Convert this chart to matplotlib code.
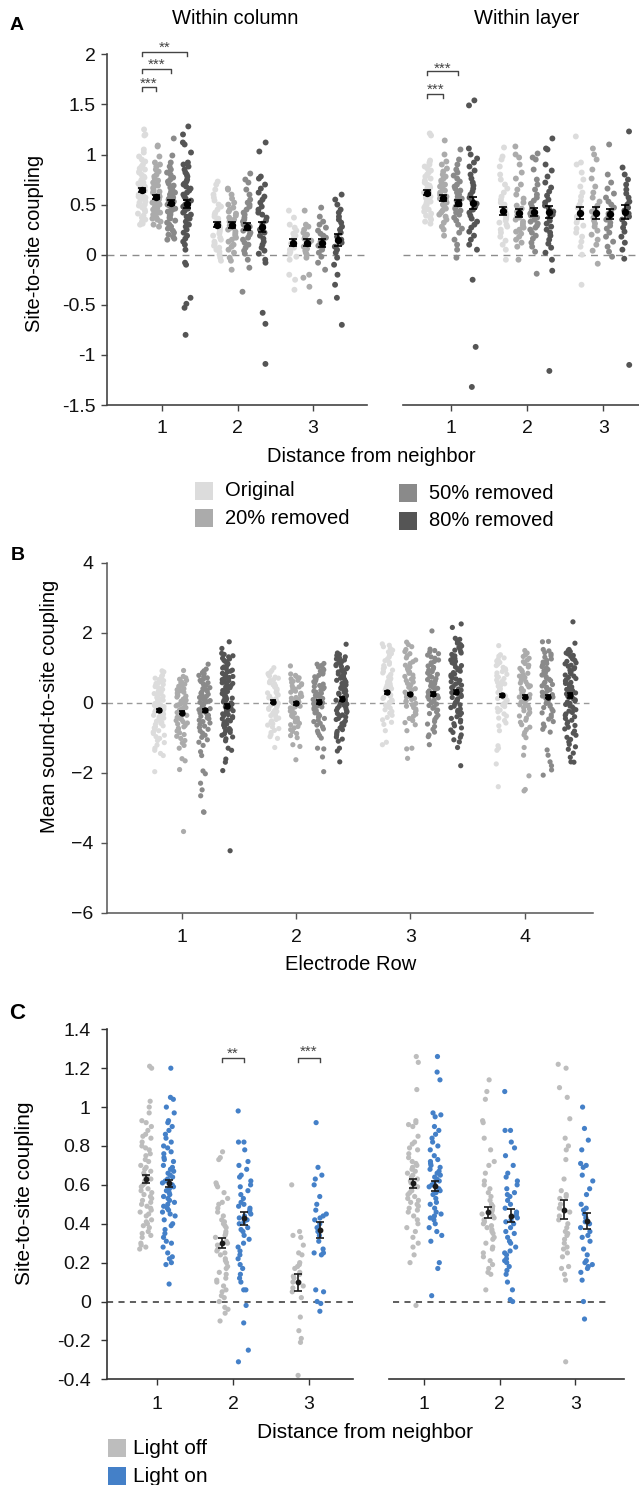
import numpy as np
import matplotlib
matplotlib.use('Agg')
import matplotlib.pyplot as plt
from matplotlib.patches import Rectangle

plt.rcParams['font.family'] = ['Liberation Sans', 'DejaVu Sans']

W, H = 639, 1485

# ---------------- Panel A: site-to-site coupling after removal ----------------
removal_labels = ['Original', '20% removed', '50% removed', '80% removed']
removal_colors = ['#dcdcdc', '#ababab', '#8a8a8a', '#555555']
distance_ticks = [1, 2, 3]

# within column, one list per removal level
col_d1 = [
    [1.25, 1.2, 1.19, 1.05, 1.02, 0.98, 0.95, 0.93, 0.9, 0.88, 0.86, 0.85, 0.83, 0.82, 0.8, 0.78, 0.77, 0.75, 0.74, 0.72,
     0.71, 0.7, 0.69, 0.68, 0.67, 0.66, 0.65, 0.64, 0.63, 0.62, 0.61, 0.6, 0.59, 0.58, 0.57, 0.56, 0.55, 0.53, 0.52, 0.5,
     0.49, 0.47, 0.45, 0.43, 0.41, 0.39, 0.37, 0.35, 0.33, 0.31, 0.3],
    [1.09, 1.08, 0.98, 0.92, 0.9, 0.88, 0.85, 0.83, 0.8, 0.78, 0.76, 0.74, 0.72, 0.7, 0.69, 0.67, 0.66, 0.64, 0.63, 0.62,
     0.6, 0.59, 0.58, 0.57, 0.56, 0.55, 0.54, 0.53, 0.52, 0.51, 0.5, 0.49, 0.48, 0.47, 0.46, 0.45, 0.44, 0.43, 0.42, 0.41,
     0.4, 0.39, 0.37, 0.36, 0.35, 0.33, 0.3, 0.28],
    [1.16, 0.99, 0.92, 0.88, 0.85, 0.82, 0.8, 0.77, 0.75, 0.73, 0.71, 0.69, 0.67, 0.65, 0.63, 0.62, 0.6, 0.58, 0.57, 0.56,
     0.55, 0.53, 0.52, 0.51, 0.5, 0.49, 0.47, 0.46, 0.45, 0.43, 0.42, 0.4, 0.39, 0.37, 0.36, 0.34, 0.32, 0.3, 0.28, 0.26,
     0.24, 0.22, 0.2, 0.18, 0.16, 0.15],
    [1.28, 1.2, 1.12, 1.1, 1.02, 0.92, 0.9, 0.88, 0.85, 0.82, 0.8, 0.78, 0.75, 0.73, 0.71, 0.7, 0.68, 0.66, 0.64, 0.62,
     0.6, 0.58, 0.56, 0.54, 0.52, 0.5, 0.48, 0.46, 0.44, 0.42, 0.4, 0.38, 0.36, 0.33, 0.3, 0.28, 0.25, 0.22, 0.19, 0.16,
     0.13, 0.1, 0.05, -0.08, -0.1, -0.43, -0.49, -0.53, -0.8],
]
col_d2 = [
    [0.73, 0.7, 0.65, 0.6, 0.57, 0.54, 0.5, 0.48, 0.45, 0.42, 0.4, 0.38, 0.36, 0.34, 0.32, 0.3, 0.29, 0.27, 0.25, 0.23,
     0.21, 0.19, 0.17, 0.15, 0.13, 0.11, 0.09, 0.07, 0.05, 0.03, 0.0, -0.03, -0.06],
    [0.66, 0.65, 0.6, 0.56, 0.52, 0.5, 0.47, 0.45, 0.43, 0.41, 0.39, 0.37, 0.35, 0.33, 0.31, 0.29, 0.27, 0.25, 0.23, 0.21,
     0.19, 0.17, 0.15, 0.13, 0.1, 0.08, 0.05, 0.02, -0.03, -0.06, -0.15],
    [0.81, 0.75, 0.72, 0.65, 0.6, 0.55, 0.52, 0.5, 0.48, 0.45, 0.42, 0.4, 0.37, 0.35, 0.33, 0.3, 0.28, 0.26, 0.24, 0.22,
     0.2, 0.17, 0.15, 0.12, 0.1, 0.07, 0.04, 0.01, -0.05, -0.13, -0.37],
    [1.12, 1.03, 0.78, 0.76, 0.7, 0.66, 0.62, 0.58, 0.55, 0.52, 0.48, 0.45, 0.42, 0.4, 0.37, 0.34, 0.31, 0.28, 0.25, 0.22,
     0.19, 0.16, 0.13, 0.1, 0.07, 0.04, 0.01, -0.05, -0.08, -0.58, -0.69, -1.09],
]
col_d3 = [
    [0.44, 0.37, 0.3, 0.27, 0.24, 0.21, 0.19, 0.17, 0.15, 0.13, 0.11, 0.09, 0.07, 0.05, 0.03, 0.01, -0.02, -0.05, -0.2,
     -0.25, -0.35],
    [0.44, 0.3, 0.28, 0.25, 0.22, 0.2, 0.18, 0.16, 0.14, 0.12, 0.1, 0.08, 0.06, 0.04, 0.02, 0.0, -0.03, -0.2, -0.23, -0.32],
    [0.47, 0.38, 0.33, 0.3, 0.27, 0.24, 0.21, 0.19, 0.17, 0.15, 0.13, 0.11, 0.09, 0.07, 0.05, 0.02, -0.02, -0.08, -0.15,
     -0.47],
    [0.6, 0.55, 0.5, 0.45, 0.42, 0.38, 0.35, 0.32, 0.28, 0.25, 0.22, 0.18, 0.15, 0.12, 0.08, 0.05, 0.02, -0.03, -0.1, -0.2,
     -0.3, -0.43, -0.7],
]
col_means = [[0.65, 0.58, 0.52, 0.51], [0.30, 0.30, 0.28, 0.28], [0.12, 0.12, 0.12, 0.15]]
col_sem = [[0.02, 0.02, 0.025, 0.04], [0.025, 0.03, 0.035, 0.05], [0.035, 0.035, 0.04, 0.06]]

# within layer
lay_d1 = [
    [1.21, 1.19, 0.94, 0.92, 0.9, 0.88, 0.86, 0.84, 0.82, 0.8, 0.78, 0.76, 0.74, 0.72, 0.7, 0.69, 0.67, 0.66, 0.64, 0.63,
     0.62, 0.61, 0.6, 0.58, 0.57, 0.56, 0.55, 0.53, 0.52, 0.5, 0.49, 0.47, 0.45, 0.43, 0.41, 0.39, 0.37, 0.35, 0.33, 0.31],
    [1.14, 1.0, 0.93, 0.9, 0.86, 0.83, 0.8, 0.78, 0.76, 0.74, 0.72, 0.7, 0.68, 0.66, 0.64, 0.62, 0.6, 0.59, 0.58, 0.56,
     0.55, 0.54, 0.52, 0.5, 0.48, 0.46, 0.44, 0.42, 0.4, 0.38, 0.35, 0.32, 0.28, 0.25, 0.19],
    [1.05, 0.95, 0.9, 0.85, 0.82, 0.79, 0.76, 0.73, 0.7, 0.68, 0.66, 0.64, 0.62, 0.6, 0.58, 0.56, 0.54, 0.52, 0.5, 0.48,
     0.46, 0.44, 0.42, 0.4, 0.37, 0.34, 0.3, 0.26, 0.22, 0.15, 0.1, 0.05, -0.03],
    [1.54, 1.49, 1.06, 1.0, 0.96, 0.92, 0.88, 0.84, 0.8, 0.76, 0.72, 0.69, 0.66, 0.63, 0.6, 0.57, 0.54, 0.51, 0.48, 0.45,
     0.42, 0.39, 0.36, 0.33, 0.3, 0.27, 0.23, 0.19, 0.15, 0.1, 0.05, -0.25, -0.92, -1.32],
]
lay_d2 = [
    [1.07, 0.98, 0.95, 0.88, 0.8, 0.75, 0.7, 0.66, 0.62, 0.58, 0.55, 0.52, 0.5, 0.48, 0.46, 0.44, 0.42, 0.4, 0.38, 0.36,
     0.34, 0.32, 0.3, 0.28, 0.25, 0.22, 0.18, 0.14, 0.1, 0.05, -0.05],
    [1.08, 1.0, 0.97, 0.9, 0.82, 0.76, 0.7, 0.65, 0.6, 0.56, 0.52, 0.49, 0.46, 0.43, 0.41, 0.39, 0.37, 0.35, 0.33, 0.31,
     0.29, 0.27, 0.25, 0.23, 0.21, 0.18, 0.15, 0.12, 0.08, -0.05],
    [1.01, 0.97, 0.95, 0.85, 0.75, 0.7, 0.65, 0.6, 0.57, 0.54, 0.51, 0.48, 0.45, 0.43, 0.41, 0.39, 0.37, 0.35, 0.33, 0.31,
     0.29, 0.27, 0.25, 0.22, 0.19, 0.16, 0.12, 0.08, 0.03, -0.19],
    [1.16, 1.06, 1.05, 0.9, 0.84, 0.78, 0.72, 0.67, 0.63, 0.59, 0.55, 0.52, 0.49, 0.46, 0.43, 0.4, 0.37, 0.34, 0.31, 0.28,
     0.25, 0.22, 0.19, 0.15, 0.11, 0.07, 0.02, -0.05, -0.16, -1.16],
]
lay_d3 = [
    [1.18, 0.92, 0.9, 0.82, 0.75, 0.68, 0.62, 0.58, 0.54, 0.5, 0.47, 0.44, 0.41, 0.38, 0.35, 0.32, 0.29, 0.26, 0.22, 0.18,
     0.13, 0.08, 0.0, -0.3],
    [1.06, 1.0, 0.95, 0.85, 0.76, 0.68, 0.62, 0.57, 0.53, 0.49, 0.46, 0.43, 0.4, 0.37, 0.34, 0.31, 0.28, 0.24, 0.2, 0.15,
     0.1, 0.04, -0.09],
    [1.1, 0.8, 0.72, 0.66, 0.61, 0.57, 0.53, 0.5, 0.47, 0.44, 0.41, 0.38, 0.35, 0.32, 0.29, 0.26, 0.22, 0.18, 0.13, 0.08,
     0.03, -0.02],
    [1.23, 0.87, 0.8, 0.75, 0.7, 0.65, 0.61, 0.57, 0.53, 0.5, 0.47, 0.44, 0.41, 0.38, 0.35, 0.31, 0.27, 0.23, 0.18, 0.12,
     0.05, -0.04, -1.1],
]
lay_means = [[0.62, 0.57, 0.52, 0.52], [0.44, 0.42, 0.43, 0.43], [0.42, 0.42, 0.41, 0.43]]
lay_sem = [[0.025, 0.03, 0.03, 0.06], [0.04, 0.04, 0.04, 0.06], [0.06, 0.06, 0.05, 0.07]]

# ---------------- Panel B: mean sound-to-site coupling per electrode row ----------------
row_ticks = [1, 2, 3, 4]
row1 = [
    [0.91, 0.88, 0.79, 0.76, 0.72, 0.7, 0.66, 0.63, 0.61, 0.57, 0.55, 0.52, 0.48, 0.46, 0.43, 0.4, 0.38, 0.34, 0.32,
     0.29, 0.26, 0.24, 0.2, 0.18, 0.15, 0.12, 0.1, 0.07, 0.04, 0.02, -0.01, -0.03, -0.06, -0.08, -0.11, -0.13, -0.16,
     -0.18, -0.21, -0.23, -0.26, -0.28, -0.31, -0.33, -0.36, -0.39, -0.41, -0.44, -0.47, -0.5, -0.53, -0.56, -0.59,
     -0.62, -0.66, -0.69, -0.72, -0.76, -0.8, -0.84, -0.88, -0.93, -0.97, -1.02, -1.08, -1.14, -1.21, -1.3, -1.36,
     -1.45, -1.51, -1.97],
    [0.92, 0.75, 0.71, 0.67, 0.64, 0.6, 0.57, 0.53, 0.5, 0.47, 0.43, 0.4, 0.37, 0.34, 0.3, 0.28, 0.25, 0.21, 0.19, 0.16,
     0.13, 0.1, 0.07, 0.04, 0.02, -0.01, -0.04, -0.06, -0.09, -0.12, -0.14, -0.17, -0.2, -0.22, -0.25, -0.28, -0.31,
     -0.33, -0.36, -0.39, -0.42, -0.45, -0.48, -0.51, -0.54, -0.58, -0.61, -0.65, -0.69, -0.73, -0.77, -0.81, -0.86,
     -0.91, -0.96, -1.02, -1.08, -1.15, -1.22, -1.3, -1.6, -1.66, -1.91, -3.68],
    [1.1, 0.96, 0.91, 0.86, 0.83, 0.78, 0.75, 0.71, 0.67, 0.64, 0.6, 0.57, 0.53, 0.5, 0.46, 0.43, 0.4, 0.36, 0.33, 0.3,
     0.27, 0.24, 0.21, 0.18, 0.15, 0.12, 0.09, 0.06, 0.03, 0.01, -0.02, -0.05, -0.08, -0.11, -0.14, -0.17, -0.2, -0.23,
     -0.26, -0.29, -0.32, -0.36, -0.39, -0.43, -0.46, -0.5, -0.54, -0.58, -0.62, -0.67, -0.71, -0.76, -0.81, -0.87,
     -0.93, -0.99, -1.06, -1.13, -1.22, -1.4, -1.51, -1.95, -2.03, -2.3, -2.49, -2.66, -3.12, -3.13],
    [1.74, 1.55, 1.41, 1.38, 1.34, 1.31, 1.27, 1.25, 1.21, 1.18, 1.15, 1.11, 1.09, 1.05, 1.02, 0.99, 0.97, 0.93, 0.9,
     0.88, 0.84, 0.81, 0.79, 0.75, 0.72, 0.7, 0.66, 0.63, 0.61, 0.57, 0.55, 0.52, 0.49, 0.46, 0.43, 0.4, 0.38, 0.35,
     0.32, 0.29, 0.26, 0.24, 0.21, 0.18, 0.15, 0.13, 0.1, 0.07, 0.04, 0.02, -0.01, -0.04, -0.07, -0.09, -0.12, -0.15,
     -0.18, -0.2, -0.23, -0.26, -0.29, -0.32, -0.34, -0.37, -0.4, -0.43, -0.46, -0.49, -0.52, -0.55, -0.58, -0.61,
     -0.64, -0.67, -0.71, -0.74, -0.78, -0.81, -0.85, -0.89, -0.93, -0.98, -1.03, -1.09, -1.3, -1.36, -1.61, -1.7,
     -1.94, -4.23],
]
row2 = [
    [1.0, 0.92, 0.87, 0.83, 0.8, 0.76, 0.73, 0.7, 0.66, 0.63, 0.6, 0.57, 0.54, 0.51, 0.48, 0.45, 0.42, 0.39, 0.36, 0.33,
     0.3, 0.28, 0.25, 0.22, 0.19, 0.17, 0.14, 0.11, 0.09, 0.06, 0.03, 0.01, -0.02, -0.05, -0.07, -0.1, -0.13, -0.16,
     -0.19, -0.22, -0.25, -0.28, -0.31, -0.34, -0.37, -0.41, -0.44, -0.48, -0.52, -0.56, -0.6, -0.64, -0.69, -0.74,
     -0.79, -0.85, -0.91, -0.97, -1.02, -1.28],
    [1.05, 0.82, 0.78, 0.75, 0.71, 0.68, 0.64, 0.61, 0.58, 0.54, 0.51, 0.48, 0.45, 0.42, 0.39, 0.36, 0.33, 0.3, 0.27,
     0.24, 0.21, 0.18, 0.15, 0.13, 0.1, 0.07, 0.04, 0.02, -0.01, -0.04, -0.07, -0.1, -0.12, -0.15, -0.18, -0.21, -0.24,
     -0.27, -0.3, -0.33, -0.37, -0.4, -0.44, -0.47, -0.51, -0.55, -0.59, -0.63, -0.68, -0.72, -0.77, -0.82, -0.88,
     -0.94, -1.0, -1.2, -1.25, -1.63],
    [1.12, 1.1, 1.06, 1.02, 0.98, 0.94, 0.9, 0.86, 0.82, 0.78, 0.74, 0.71, 0.67, 0.63, 0.6, 0.56, 0.53, 0.49, 0.46, 0.43,
     0.39, 0.36, 0.33, 0.3, 0.27, 0.24, 0.21, 0.18, 0.15, 0.12, 0.09, 0.06, 0.03, 0.0, -0.03, -0.06, -0.09, -0.12,
     -0.15, -0.19, -0.22, -0.26, -0.29, -0.33, -0.37, -0.41, -0.45, -0.5, -0.54, -0.59, -0.64, -0.69, -0.75, -0.81,
     -0.87, -0.94, -1.01, -1.3, -1.32, -1.55, -1.97],
    [1.67, 1.42, 1.38, 1.35, 1.31, 1.28, 1.25, 1.22, 1.18, 1.15, 1.12, 1.09, 1.06, 1.03, 1.0, 0.97, 0.94, 0.91, 0.88,
     0.85, 0.82, 0.79, 0.76, 0.73, 0.7, 0.67, 0.64, 0.61, 0.58, 0.55, 0.52, 0.5, 0.47, 0.44, 0.41, 0.38, 0.35, 0.33,
     0.3, 0.27, 0.24, 0.21, 0.19, 0.16, 0.13, 0.1, 0.07, 0.04, 0.02, -0.01, -0.04, -0.07, -0.1, -0.13, -0.16, -0.19,
     -0.22, -0.25, -0.28, -0.31, -0.35, -0.38, -0.41, -0.45, -0.48, -0.52, -0.56, -0.6, -0.64, -0.68, -0.72, -0.77,
     -0.82, -0.87, -0.92, -0.98, -1.04, -1.1, -1.3, -1.38, -1.69],
]
row3 = [
    [1.68, 1.64, 1.6, 1.55, 1.5, 1.45, 1.4, 1.35, 1.3, 1.25, 1.2, 1.15, 1.1, 1.06, 1.01, 0.97, 0.93, 0.89, 0.85, 0.81,
     0.77, 0.73, 0.69, 0.65, 0.61, 0.58, 0.54, 0.5, 0.47, 0.43, 0.4, 0.36, 0.33, 0.29, 0.26, 0.22, 0.19, 0.15, 0.12,
     0.08, 0.05, 0.01, -0.03, -0.07, -0.11, -0.15, -0.2, -0.25, -0.3, -0.36, -0.42, -0.49, -0.56, -0.62, -0.8, -1.13,
     -1.2],
    [1.73, 1.66, 1.6, 1.52, 1.46, 1.4, 1.34, 1.28, 1.22, 1.17, 1.12, 1.07, 1.02, 0.97, 0.92, 0.88, 0.84, 0.79, 0.75,
     0.71, 0.67, 0.63, 0.59, 0.55, 0.51, 0.48, 0.44, 0.4, 0.37, 0.33, 0.3, 0.26, 0.23, 0.19, 0.16, 0.12, 0.09, 0.05,
     0.02, -0.02, -0.06, -0.1, -0.14, -0.18, -0.23, -0.28, -0.33, -0.39, -0.45, -0.51, -0.57, -0.63, -0.8, -1.3, -1.32,
     -1.59],
    [2.05, 1.53, 1.49, 1.45, 1.4, 1.36, 1.31, 1.27, 1.22, 1.18, 1.14, 1.09, 1.05, 1.01, 0.97, 0.93, 0.89, 0.85, 0.81,
     0.77, 0.73, 0.69, 0.66, 0.62, 0.58, 0.55, 0.51, 0.48, 0.44, 0.41, 0.37, 0.34, 0.3, 0.27, 0.24, 0.2, 0.17, 0.14,
     0.1, 0.07, 0.04, 0.0, -0.04, -0.08, -0.12, -0.16, -0.21, -0.26, -0.31, -0.36, -0.42, -0.48, -0.54, -0.61, -0.68,
     -0.76, -0.84, -0.92, -0.97, -1.2],
    [2.25, 2.15, 1.84, 1.81, 1.78, 1.74, 1.7, 1.66, 1.62, 1.58, 1.54, 1.5, 1.46, 1.42, 1.38, 1.34, 1.3, 1.26, 1.22,
     1.18, 1.14, 1.1, 1.06, 1.02, 0.98, 0.94, 0.9, 0.86, 0.82, 0.79, 0.75, 0.71, 0.68, 0.64, 0.6, 0.57, 0.53, 0.5,
     0.46, 0.43, 0.39, 0.36, 0.32, 0.29, 0.25, 0.22, 0.18, 0.15, 0.11, 0.08, 0.04, 0.01, -0.03, -0.06, -0.1, -0.14,
     -0.18, -0.22, -0.26, -0.3, -0.35, -0.4, -0.45, -0.5, -0.55, -0.6, -0.66, -0.72, -0.78, -0.85, -0.92, -0.99, -1.06,
     -1.12, -1.28, -1.8],
]
row4 = [
    [1.63, 1.37, 1.33, 1.28, 1.24, 1.19, 1.15, 1.1, 1.06, 1.01, 0.97, 0.93, 0.89, 0.85, 0.81, 0.77, 0.73, 0.69, 0.65,
     0.61, 0.58, 0.54, 0.5, 0.47, 0.43, 0.4, 0.36, 0.33, 0.29, 0.26, 0.22, 0.19, 0.15, 0.12, 0.08, 0.05, 0.01, -0.03,
     -0.07, -0.11, -0.16, -0.21, -0.26, -0.32, -0.38, -0.44, -0.51, -0.58, -0.66, -0.8, -1.23, -1.3, -1.36, -1.75, -2.4],
    [1.49, 1.42, 1.37, 1.32, 1.27, 1.22, 1.17, 1.12, 1.07, 1.02, 0.98, 0.93, 0.89, 0.84, 0.8, 0.76, 0.72, 0.68, 0.64,
     0.6, 0.56, 0.52, 0.48, 0.45, 0.41, 0.37, 0.34, 0.3, 0.27, 0.23, 0.2, 0.16, 0.13, 0.09, 0.06, 0.02, -0.02, -0.06,
     -0.1, -0.14, -0.18, -0.23, -0.28, -0.33, -0.38, -0.44, -0.5, -0.56, -0.63, -0.7, -0.77, -0.85, -0.92, -1.0, -1.28,
     -1.5, -2.09, -2.48, -2.52],
    [1.75, 1.74, 1.52, 1.48, 1.43, 1.39, 1.34, 1.3, 1.25, 1.21, 1.16, 1.12, 1.08, 1.03, 0.99, 0.95, 0.91, 0.87, 0.83,
     0.79, 0.75, 0.71, 0.67, 0.63, 0.59, 0.55, 0.52, 0.48, 0.44, 0.41, 0.37, 0.33, 0.3, 0.26, 0.23, 0.19, 0.16, 0.12,
     0.09, 0.05, 0.02, -0.02, -0.06, -0.1, -0.14, -0.19, -0.24, -0.29, -0.35, -0.41, -0.47, -0.54, -0.61, -0.68, -0.76,
     -0.84, -1.35, -1.5, -1.69, -1.8, -1.92, -2.07],
    [2.31, 1.7, 1.52, 1.49, 1.46, 1.42, 1.39, 1.35, 1.32, 1.28, 1.25, 1.21, 1.18, 1.14, 1.11, 1.07, 1.04, 1.0, 0.97,
     0.93, 0.9, 0.86, 0.83, 0.79, 0.76, 0.72, 0.69, 0.65, 0.62, 0.58, 0.55, 0.52, 0.48, 0.45, 0.42, 0.38, 0.35, 0.32,
     0.28, 0.25, 0.22, 0.18, 0.15, 0.12, 0.08, 0.05, 0.02, -0.02, -0.05, -0.09, -0.12, -0.16, -0.2, -0.24, -0.28,
     -0.32, -0.36, -0.4, -0.45, -0.5, -0.55, -0.6, -0.65, -0.7, -0.75, -0.81, -0.87, -0.93, -0.99, -1.05, -1.12,
     -1.19, -1.26, -1.33, -1.44, -1.56, -1.69, -1.7],
]
row_means = [[-0.22, -0.29, -0.22, -0.1], [0.03, -0.02, 0.02, 0.1], [0.3, 0.25, 0.25, 0.3], [0.21, 0.17, 0.17, 0.21]]
row_sem = [[0.04, 0.04, 0.045, 0.06], [0.04, 0.04, 0.05, 0.06], [0.04, 0.04, 0.05, 0.06], [0.04, 0.04, 0.05, 0.07]]

# ---------------- Panel C: light off vs light on ----------------
light_labels = ['Light off', 'Light on']
light_colors = ['#bdbdbd', '#4480c8']
c_col = [
    [[1.21, 1.2, 1.03, 1.0, 0.97, 0.93, 0.92, 0.9, 0.88, 0.86, 0.85, 0.84, 0.82, 0.8, 0.79, 0.78, 0.76, 0.75, 0.73,
      0.72, 0.7, 0.69, 0.68, 0.67, 0.66, 0.65, 0.64, 0.63, 0.62, 0.61, 0.6, 0.59, 0.58, 0.57, 0.56, 0.55, 0.54, 0.53,
      0.52, 0.51, 0.5, 0.49, 0.48, 0.47, 0.46, 0.45, 0.44, 0.42, 0.41, 0.4, 0.39, 0.38, 0.36, 0.35, 0.34, 0.33, 0.3,
      0.29, 0.28, 0.27],
     [1.2, 1.05, 1.04, 1.0, 0.97, 0.93, 0.92, 0.9, 0.88, 0.86, 0.84, 0.82, 0.8, 0.79, 0.77, 0.76, 0.74, 0.73, 0.72,
      0.7, 0.69, 0.68, 0.67, 0.66, 0.65, 0.64, 0.63, 0.62, 0.61, 0.6, 0.59, 0.58, 0.57, 0.56, 0.55, 0.54, 0.53, 0.52,
      0.51, 0.5, 0.49, 0.48, 0.47, 0.46, 0.45, 0.44, 0.42, 0.4, 0.39, 0.37, 0.35, 0.33, 0.31, 0.3, 0.28, 0.25, 0.23,
      0.22, 0.2, 0.19, 0.09]],
    [[0.77, 0.74, 0.73, 0.61, 0.6, 0.59, 0.56, 0.53, 0.51, 0.5, 0.48, 0.46, 0.44, 0.42, 0.41, 0.4, 0.39, 0.38, 0.36,
      0.35, 0.34, 0.33, 0.31, 0.3, 0.29, 0.27, 0.26, 0.25, 0.24, 0.22, 0.21, 0.2, 0.18, 0.17, 0.15, 0.14, 0.12, 0.11,
      0.1, 0.08, 0.06, 0.05, 0.03, 0.02, 0.0, -0.03, -0.04, -0.06, -0.1],
     [0.98, 0.82, 0.82, 0.78, 0.72, 0.7, 0.68, 0.65, 0.64, 0.62, 0.6, 0.59, 0.57, 0.55, 0.53, 0.51, 0.5, 0.49, 0.48,
      0.47, 0.46, 0.45, 0.44, 0.43, 0.42, 0.41, 0.4, 0.38, 0.37, 0.36, 0.34, 0.32, 0.3, 0.28, 0.26, 0.24, 0.22, 0.19,
      0.17, 0.14, 0.12, 0.1, 0.06, 0.06, -0.02, -0.11, -0.25, -0.31]],
    [[0.6, 0.36, 0.34, 0.33, 0.29, 0.25, 0.24, 0.2, 0.19, 0.18, 0.17, 0.15, 0.14, 0.13, 0.12, 0.1, 0.08, 0.07, 0.05,
      0.02, -0.08, -0.15, -0.19, -0.21, -0.38],
     [0.92, 0.69, 0.65, 0.63, 0.6, 0.54, 0.5, 0.47, 0.45, 0.44, 0.43, 0.42, 0.4, 0.38, 0.36, 0.34, 0.31, 0.27, 0.25,
      0.25, 0.24, 0.06, 0.05, 0.0, -0.01, -0.05]],
]
c_col_means = [[0.632, 0.607], [0.30, 0.427], [0.098, 0.367]]
c_col_sem = [[0.02, 0.02], [0.027, 0.035], [0.045, 0.04]]
c_lay = [
    [[1.26, 1.23, 1.09, 0.93, 0.92, 0.91, 0.9, 0.85, 0.82, 0.81, 0.79, 0.78, 0.76, 0.74, 0.72, 0.71, 0.7, 0.69, 0.68,
      0.67, 0.66, 0.65, 0.64, 0.63, 0.62, 0.61, 0.6, 0.59, 0.58, 0.57, 0.56, 0.55, 0.54, 0.53, 0.52, 0.51, 0.5, 0.49,
      0.48, 0.47, 0.46, 0.44, 0.42, 0.4, 0.38, 0.36, 0.33, 0.3, 0.28, 0.24, 0.2, -0.02],
     [1.26, 1.18, 1.14, 0.97, 0.96, 0.95, 0.9, 0.88, 0.86, 0.84, 0.82, 0.8, 0.78, 0.75, 0.73, 0.72, 0.71, 0.7, 0.69,
      0.68, 0.67, 0.66, 0.65, 0.64, 0.63, 0.62, 0.61, 0.6, 0.59, 0.58, 0.57, 0.56, 0.55, 0.53, 0.51, 0.5, 0.48, 0.46,
      0.45, 0.44, 0.43, 0.42, 0.4, 0.38, 0.36, 0.34, 0.31, 0.2, 0.17, 0.03]],
    [[1.14, 1.08, 1.04, 0.93, 0.92, 0.84, 0.78, 0.72, 0.7, 0.66, 0.62, 0.6, 0.58, 0.56, 0.54, 0.52, 0.5, 0.49, 0.48,
      0.47, 0.46, 0.45, 0.44, 0.43, 0.42, 0.41, 0.4, 0.39, 0.38, 0.37, 0.36, 0.35, 0.33, 0.32, 0.3, 0.28, 0.27, 0.25,
      0.23, 0.21, 0.19, 0.17, 0.15, 0.14, 0.06],
     [1.08, 0.88, 0.88, 0.82, 0.79, 0.75, 0.7, 0.66, 0.64, 0.62, 0.6, 0.58, 0.56, 0.55, 0.54, 0.52, 0.5, 0.48, 0.46,
      0.45, 0.44, 0.43, 0.42, 0.41, 0.4, 0.38, 0.36, 0.35, 0.33, 0.31, 0.3, 0.28, 0.26, 0.25, 0.24, 0.22, 0.21, 0.2,
      0.18, 0.16, 0.14, 0.1, 0.06, 0.01, 0.0]],
    [[1.22, 1.2, 1.1, 1.05, 0.94, 0.84, 0.8, 0.78, 0.73, 0.63, 0.57, 0.55, 0.54, 0.53, 0.5, 0.48, 0.46, 0.44, 0.42,
      0.4, 0.38, 0.36, 0.35, 0.34, 0.32, 0.3, 0.28, 0.27, 0.25, 0.23, 0.18, 0.17, 0.14, 0.11, -0.31],
     [1.0, 0.89, 0.83, 0.78, 0.71, 0.7, 0.69, 0.65, 0.62, 0.58, 0.55, 0.5, 0.48, 0.47, 0.45, 0.43, 0.41, 0.4, 0.38,
      0.36, 0.34, 0.33, 0.31, 0.27, 0.24, 0.21, 0.2, 0.19, 0.18, 0.17, 0.15, 0.11, 0.0, -0.09]],
]
c_lay_means = [[0.608, 0.593], [0.458, 0.442], [0.473, 0.413]]
c_lay_sem = [[0.022, 0.025], [0.03, 0.035], [0.05, 0.04]]


def rect(x0, y0, x1, y1):
    # pixel box -> figure fraction
    return [x0 / W, 1 - y1 / H, (x1 - x0) / W, (y1 - y0) / H]


def ftext(x, y, s, **kw):
    fig.text(x / W, 1 - y / H, s, **kw)


def jitter(n, width, seed=0):
    # deterministic horizontal spread (integer hash, no lattice pattern)
    out = []
    for i in range(n):
        v = (i * 0x9E3779B1 + seed * 0x85EBCA6B + 0x7F4A7C15) & 0xFFFFFFFF
        v ^= v >> 16
        v = (v * 0x45D9F3B) & 0xFFFFFFFF
        v ^= v >> 16
        v = (v * 0x45D9F3B) & 0xFFFFFFFF
        v ^= v >> 16
        out.append(v / 2 ** 32)
    return (np.array(out) - 0.5) * 2 * width


def style(ax, show_y, spine_color='#444', lw=1.2):
    for s in ['top', 'right']:
        ax.spines[s].set_visible(False)
    ax.spines['bottom'].set_color(spine_color)
    ax.spines['bottom'].set_linewidth(lw)
    ax.spines['left'].set_color(spine_color)
    ax.spines['left'].set_linewidth(lw)
    if not show_y:
        ax.spines['left'].set_visible(False)
        ax.set_yticks([])
    ax.tick_params(direction='out', length=4, width=1, color=spine_color, labelcolor='#111')


def strips(ax, groups, means, sems, ticks, offsets, colors, size, width, ms, cap, ecolor='k'):
    for d, tick in enumerate(ticks):
        for g, vals in enumerate(groups[d]):
            x = tick + offsets[g]
            ax.scatter(x + jitter(len(vals), width, seed=d * 7 + g), vals, s=size, c=colors[g],
                       edgecolors='none', zorder=2)
            ax.errorbar(x, means[d][g], yerr=sems[d][g], fmt='o', color=ecolor, ms=ms,
                        capsize=cap, elinewidth=1.2, capthick=1.2, zorder=4)


def bracket(ax, x0, x1, y, tick_h, stars, ty, fs=11):
    ax.plot([x0, x0, x1, x1], [y - tick_h, y, y, y - tick_h], color='#444', lw=1, clip_on=False)
    ax.text((x0 + x1) / 2, ty, stars, ha='center', va='center', fontsize=fs, color='#444', clip_on=False)


fig = plt.figure(figsize=(W / 100, H / 100), dpi=100)

# ---- Panel A ----
a_off_left = [-0.27, -0.075, 0.12, 0.33]
a_off_right = [-0.31, -0.1, 0.09, 0.29]
axA1 = fig.add_axes(rect(107, 54.3, 367, 405))
axA2 = fig.add_axes(rect(403, 54.3, 639, 405))
for ax, groups, means, sems, offs, xl in [
        (axA1, [col_d1, col_d2, col_d3], col_means, col_sem, a_off_left, (0.27, 3.715)),
        (axA2, [lay_d1, lay_d2, lay_d3], lay_means, lay_sem, a_off_right, (0.37, 3.47))]:
    ax.axhline(0, color='#8c8c8c', lw=1, ls=(0, (5, 4)), zorder=1)
    strips(ax, groups, means, sems, distance_ticks, offs, removal_colors, 18, 0.055, 4.3, 2.9)
    ax.set_xlim(*xl)
    ax.set_ylim(-1.5, 2)
    ax.set_xticks(distance_ticks)
    ax.set_xticklabels([str(t) for t in distance_ticks], fontsize=14)
    ax.tick_params(axis='x', pad=7)
style(axA1, True)
style(axA2, False)
a_yticks = [2, 1.5, 1, 0.5, 0, -0.5, -1, -1.5]
axA1.set_yticks(a_yticks)
axA1.set_yticklabels(['2', '1.5', '1', '0.5', '0', '-0.5', '-1', '-1.5'], fontsize=14)
axA1.tick_params(axis='y', pad=4)

x = [1 + o for o in a_off_left]
bracket(axA1, x[0], x[1], 1.67, 0.033, '***', 1.71)
bracket(axA1, x[0], x[2], 1.85, 0.033, '***', 1.90)
bracket(axA1, x[0], x[3], 2.02, 0.033, '**', 2.07)
x = [1 + o for o in a_off_right]
bracket(axA2, x[0], x[1], 1.60, 0.033, '***', 1.65)
bracket(axA2, x[0], x[2], 1.83, 0.033, '***', 1.86)

ftext(16.5, 26, 'A', fontsize=14, fontweight='bold', ha='center', va='center')
ftext(235, 18, 'Within column', fontsize=14.5, ha='center', va='center')
ftext(527, 18, 'Within layer', fontsize=14.5, ha='center', va='center')
ftext(35, 243, 'Site-to-site coupling', fontsize=14.5, rotation=90, ha='center', va='center')
ftext(371, 457, 'Distance from neighbor', fontsize=14.5, ha='center', va='center')

legend_pos = [(195, 482), (195, 509), (399, 484), (399, 512)]
for (lx, ly), lab, col in zip(legend_pos, removal_labels, removal_colors):
    fig.add_artist(Rectangle((lx / W, 1 - (ly + 18) / H), 18 / W, 18 / H, transform=fig.transFigure,
                             facecolor=col, edgecolor='none'))
    ftext(lx + 30, ly + 9, lab, fontsize=14.5, ha='left', va='center')

# ---- Panel B ----
b_off = [-0.2, 0.0, 0.2, 0.4]
axB = fig.add_axes(rect(107, 562.7, 593.3, 912.7))
axB.axhline(0, color='#9a9a9a', lw=1, ls=(0, (4, 3)), zorder=1)
strips(axB, [row1, row2, row3, row4], row_means, row_sem, row_ticks, b_off, removal_colors, 14, 0.05, 3.6, 2.2)
axB.set_xlim(0.347, 4.6)
axB.set_ylim(-6, 4)
axB.set_xticks(row_ticks)
axB.set_xticklabels([str(t) for t in row_ticks], fontsize=14)
axB.set_yticks([4, 2, 0, -2, -4, -6])
axB.set_yticklabels(['4', '2', '0', '\u22122', '\u22124', '\u22126'], fontsize=14)
style(axB, True, spine_color='#555', lw=1.1)
axB.tick_params(axis='x', pad=8)
axB.tick_params(axis='y', pad=6)
ftext(17.5, 555, 'B', fontsize=14, fontweight='bold', ha='center', va='center')
ftext(50, 706, 'Mean sound-to-site coupling', fontsize=14.5, rotation=90, ha='center', va='center')
ftext(350.5, 964, 'Electrode Row', fontsize=14.5, ha='center', va='center')

# ---- Panel C ----
c_off = [-0.15, 0.15]
axC1 = fig.add_axes(rect(107.3, 1029.3, 352.5, 1379.3))
axC2 = fig.add_axes(rect(389, 1029.3, 624, 1379.3))
axC1.axhline(0, color='#333', lw=1.1, ls=(0, (4, 3.5)), zorder=1)
axC2.axhline(0, xmin=0.016, xmax=0.926, color='#333', lw=1.1, ls=(0, (4, 3.5)), zorder=1)
for ax, groups, means, sems, xl in [(axC1, c_col, c_col_means, c_col_sem, (0.34, 3.575)),
                                    (axC2, c_lay, c_lay_means, c_lay_sem, (0.538, 3.642))]:
    strips(ax, groups, means, sems, distance_ticks, c_off, light_colors, 14, 0.085, 3.2, 2.9, ecolor='#1a1a1a')
    ax.set_xlim(*xl)
    ax.set_ylim(-0.4, 1.4)
    ax.set_xticks(distance_ticks)
    ax.set_xticklabels([str(t) for t in distance_ticks], fontsize=14)
style(axC1, True, spine_color='#333')
style(axC2, False, spine_color='#333')
axC1.tick_params(axis='x', pad=8)
axC2.tick_params(axis='x', pad=8)
c_yticks = [1.4, 1.2, 1, 0.8, 0.6, 0.4, 0.2, 0, -0.2, -0.4]
axC1.set_yticks(c_yticks)
axC1.set_yticklabels(['1.4', '1.2', '1', '0.8', '0.6', '0.4', '0.2', '0', '-0.2', '-0.4'], fontsize=14)
axC1.tick_params(axis='y', pad=8)

bracket(axC1, 2 + c_off[0], 2 + c_off[1], 1.25, 0.02, '**', 1.275)
bracket(axC1, 3 + c_off[0], 3 + c_off[1], 1.25, 0.02, '***', 1.285)

ftext(17, 1013.5, 'C', fontsize=16, fontweight='bold', ha='center', va='center')
ftext(25, 1193.5, 'Site-to-site coupling', fontsize=15, rotation=90, ha='center', va='center')
ftext(365, 1432, 'Distance from neighbor', fontsize=15, ha='center', va='center')
for ly, lab, col in zip([1439, 1467], light_labels, light_colors):
    fig.add_artist(Rectangle((108 / W, 1 - (ly + 18) / H), 18 / W, 18 / H, transform=fig.transFigure,
                             facecolor=col, edgecolor='none'))
    ftext(133, ly + 9, lab, fontsize=15, ha='left', va='center')

fig.savefig('out.png', dpi=100)
